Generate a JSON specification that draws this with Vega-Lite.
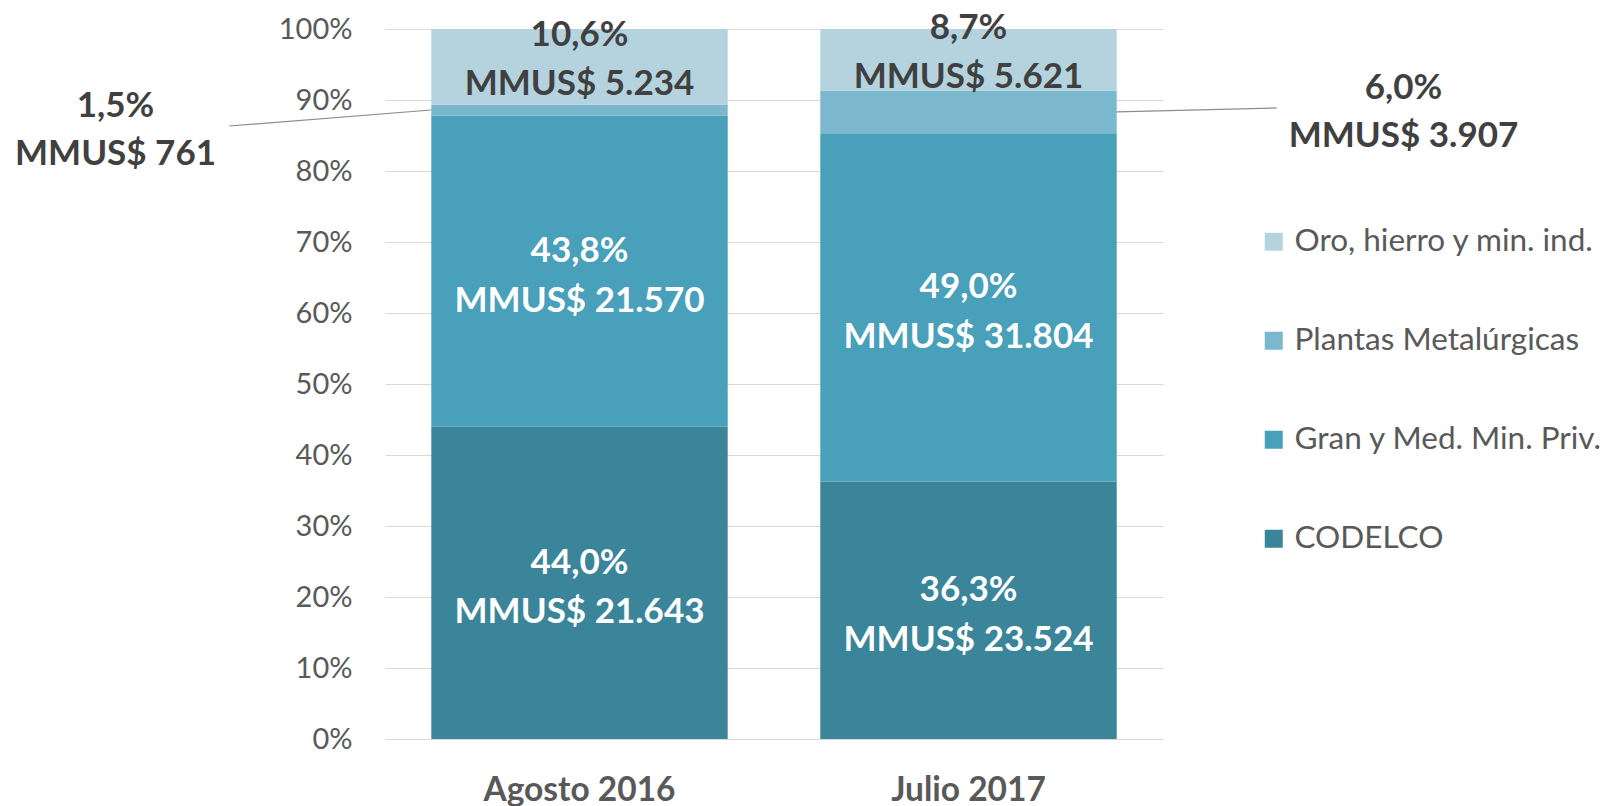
{
  "$schema": "https://vega.github.io/schema/vega-lite/v6.json",
  "width": 778,
  "height": 710,
  "autosize": {"type": "none"},
  "padding": {"left": 385, "top": 29, "right": 445, "bottom": 67},
  "background": "white",
  "config": {"view": {"stroke": null}},
  "data": {
    "values": [
      {"period": "Agosto 2016", "category": "CODELCO", "value": 21643, "pct": "44,0%", "mmus": "MMUS$ 21.643"},
      {"period": "Agosto 2016", "category": "Gran y Med. Min. Priv.", "value": 21570, "pct": "43,8%", "mmus": "MMUS$ 21.570"},
      {"period": "Agosto 2016", "category": "Plantas Metalúrgicas", "value": 761, "pct": "1,5%", "mmus": "MMUS$ 761"},
      {"period": "Agosto 2016", "category": "Oro, hierro y min. ind.", "value": 5234, "pct": "10,6%", "mmus": "MMUS$ 5.234"},
      {"period": "Julio 2017", "category": "CODELCO", "value": 23524, "pct": "36,3%", "mmus": "MMUS$ 23.524"},
      {"period": "Julio 2017", "category": "Gran y Med. Min. Priv.", "value": 31804, "pct": "49,0%", "mmus": "MMUS$ 31.804"},
      {"period": "Julio 2017", "category": "Plantas Metalúrgicas", "value": 3907, "pct": "6,0%", "mmus": "MMUS$ 3.907"},
      {"period": "Julio 2017", "category": "Oro, hierro y min. ind.", "value": 5621, "pct": "8,7%", "mmus": "MMUS$ 5.621"}
    ]
  },
  "transform": [
    {"calculate": "indexof(['CODELCO','Gran y Med. Min. Priv.','Plantas Metalúrgicas','Oro, hierro y min. ind.'], datum.category)", "as": "ord"},
    {"stack": "value", "groupby": ["period"], "offset": "normalize", "sort": [{"field": "ord", "order": "ascending"}], "as": ["y0", "y1"]},
    {"calculate": "(datum.y0 + datum.y1) / 2", "as": "ymid"}
  ],
  "encoding": {
    "x": {
      "field": "period", "type": "nominal", "sort": ["Agosto 2016", "Julio 2017"],
      "scale": {"paddingInner": 0.238, "paddingOuter": 0.119},
      "axis": {
        "title": null, "labelAngle": 0, "domain": false, "ticks": false, "tickSize": 0,
        "labelFont": "Lato", "labelFontWeight": "bold", "labelFontSize": 33.5, "labelColor": "#595959",
        "labelPadding": 35, "labelLimit": 500
      }
    }
  },
  "layer": [
    {
      "mark": {"type": "bar"},
      "encoding": {
        "y": {
          "field": "y0", "type": "quantitative",
          "scale": {"domain": [0, 1], "nice": false},
          "axis": {
            "title": null, "format": ".0%", "values": [0, 0.1, 0.2, 0.3, 0.4, 0.5, 0.6, 0.7, 0.8, 0.9, 1],
            "domain": false, "ticks": false, "tickSize": 0, "grid": true, "gridColor": "#D9D9D9", "gridWidth": 1.2,
            "labelFont": "Lato", "labelFontSize": 29, "labelColor": "#595959", "labelPadding": 33
          }
        },
        "y2": {"field": "y1"},
        "color": {
          "field": "category", "type": "nominal",
          "scale": {
            "domain": ["Oro, hierro y min. ind.", "Plantas Metalúrgicas", "Gran y Med. Min. Priv.", "CODELCO"],
            "range": ["#B4D3DF", "#7BB8CD", "#48A0BA", "#3A8599"]
          },
          "legend": {
            "title": null, "orient": "none", "legendX": 873, "legendY": 197,
            "direction": "vertical", "symbolType": "square", "symbolSize": 324, "symbolStrokeWidth": 0,
            "labelFont": "Lato", "labelFontSize": 31.5, "labelColor": "#595959", "labelOffset": 5,
            "rowPadding": 66, "padding": 0, "labelLimit": 400
          }
        }
      }
    },
    {
      "transform": [{"filter": "datum.category == 'CODELCO' || datum.category == 'Gran y Med. Min. Priv.'"}],
      "mark": {"type": "text", "font": "Lato", "fontWeight": "bold", "fontSize": 35, "color": "white", "baseline": "middle", "dy": -20},
      "encoding": {"y": {"field": "ymid", "type": "quantitative"}, "text": {"field": "pct"}}
    },
    {
      "transform": [{"filter": "datum.category == 'CODELCO' || datum.category == 'Gran y Med. Min. Priv.'"}],
      "mark": {"type": "text", "font": "Lato", "fontWeight": "bold", "fontSize": 35, "color": "white", "baseline": "middle", "dy": 29.5},
      "encoding": {"y": {"field": "ymid", "type": "quantitative"}, "text": {"field": "mmus"}}
    },
    {
      "transform": [{"filter": "datum.category == 'Oro, hierro y min. ind.'"}],
      "mark": {"type": "text", "font": "Lato", "fontWeight": "bold", "fontSize": 35, "color": "#404040", "baseline": "middle", "dy": -32},
      "encoding": {"y": {"field": "ymid", "type": "quantitative"}, "text": {"field": "pct"}}
    },
    {
      "transform": [{"filter": "datum.category == 'Oro, hierro y min. ind.'"}],
      "mark": {"type": "text", "font": "Lato", "fontWeight": "bold", "fontSize": 35, "color": "#404040", "baseline": "middle", "dy": 17},
      "encoding": {"y": {"field": "ymid", "type": "quantitative"}, "text": {"field": "mmus"}}
    },
    {
      "transform": [{"filter": "datum.category == 'Plantas Metalúrgicas' && datum.period == 'Agosto 2016'"}],
      "mark": {"type": "text", "font": "Lato", "fontWeight": "bold", "fontSize": 35, "color": "#404040", "baseline": "middle", "dx": -464, "dy": -4},
      "encoding": {"y": {"field": "ymid", "type": "quantitative"}, "text": {"field": "pct"}}
    },
    {
      "transform": [{"filter": "datum.category == 'Plantas Metalúrgicas' && datum.period == 'Agosto 2016'"}],
      "mark": {"type": "text", "font": "Lato", "fontWeight": "bold", "fontSize": 35, "color": "#404040", "baseline": "middle", "dx": -464, "dy": 43.5},
      "encoding": {"y": {"field": "ymid", "type": "quantitative"}, "text": {"field": "mmus"}}
    },
    {
      "transform": [{"filter": "datum.category == 'Plantas Metalúrgicas' && datum.period == 'Julio 2017'"}],
      "mark": {"type": "text", "font": "Lato", "fontWeight": "bold", "fontSize": 35, "color": "#404040", "baseline": "middle", "dx": 435, "dy": -23.5},
      "encoding": {"y": {"field": "ymid", "type": "quantitative"}, "text": {"field": "pct"}}
    },
    {
      "transform": [{"filter": "datum.category == 'Plantas Metalúrgicas' && datum.period == 'Julio 2017'"}],
      "mark": {"type": "text", "font": "Lato", "fontWeight": "bold", "fontSize": 35, "color": "#404040", "baseline": "middle", "dx": 435, "dy": 24.5},
      "encoding": {"y": {"field": "ymid", "type": "quantitative"}, "text": {"field": "mmus"}}
    },
    {
      "transform": [{"filter": "datum.category == 'Plantas Metalúrgicas' && datum.period == 'Agosto 2016'"}],
      "mark": {"type": "rule", "color": "#8C8C8C", "strokeWidth": 1.2, "x2Offset": -202, "y2Offset": 16},
      "encoding": {
        "x": {"field": "period", "type": "nominal", "bandPosition": 0},
        "x2": {"field": "period", "bandPosition": 0},
        "y": {"field": "ymid", "type": "quantitative"},
        "y2": {"field": "ymid"}
      }
    },
    {
      "transform": [{"filter": "datum.category == 'Plantas Metalúrgicas' && datum.period == 'Julio 2017'"}],
      "mark": {"type": "rule", "color": "#8C8C8C", "strokeWidth": 1.2, "x2Offset": 160, "y2Offset": -4},
      "encoding": {
        "x": {"field": "period", "type": "nominal", "bandPosition": 1},
        "x2": {"field": "period", "bandPosition": 1},
        "y": {"field": "ymid", "type": "quantitative"},
        "y2": {"field": "ymid"}
      }
    }
  ]
}
